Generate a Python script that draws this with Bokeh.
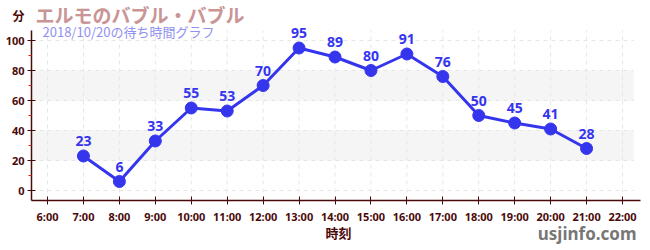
from bokeh.plotting import figure
from bokeh.models import Range1d, BoxAnnotation, Label, FixedTicker, ColumnDataSource, LabelSet
from bokeh.core.properties import value
from bokeh.embed import file_html
from bokeh.resources import INLINE

hours = [7, 8, 9, 10, 11, 12, 13, 14, 15, 16, 17, 18, 19, 20, 21]
waits = [23, 6, 33, 55, 53, 70, 95, 89, 80, 91, 76, 50, 45, 41, 28]
x_ticks = list(range(6, 23))
x_tick_labels = {h: f"{h}:00" for h in x_ticks}
y_ticks = [0, 20, 40, 60, 80, 100]
y_minor = [10, 30, 50, 70, 90]
bands = [(20, 40), (60, 80)]

JP = "Noto Sans CJK JP"
LAT = "Noto Sans"
AXIS_COL = "#4a0a0a"
BLUE = "#3535ee"
GRID = "#e6e6e6"

# plot-area limits (data units)
X0, X1, XG = 5.555, 22.5, 22.31
Y0, Y1 = -6.667, 106.667

p = figure(width=650, height=250, output_backend="svg", toolbar_location=None,
           x_range=Range1d(4.692, 22.779), y_range=Range1d(-40, 126.667),
           min_border=0)
p.outline_line_color = None
p.background_fill_color = "white"
p.xgrid.visible = False
p.ygrid.visible = False

for lo, hi in bands:
    p.add_layout(BoxAnnotation(left=X0, right=XG, bottom=lo, top=hi, fill_color="#f5f5f5",
                               fill_alpha=1.0, line_color=None, level="underlay"))

# dashed grid inside the plot area
p.segment(x0=x_ticks, y0=[Y0] * len(x_ticks), x1=x_ticks, y1=[Y1] * len(x_ticks),
          line_color=GRID, line_dash="4 4", line_width=1)
p.segment(x0=[X0] * len(y_ticks), y0=y_ticks, x1=[XG] * len(y_ticks), y1=y_ticks,
          line_color=GRID, line_dash="4 4", line_width=1)

p.xaxis.ticker = FixedTicker(ticks=x_ticks)
p.xaxis.major_label_overrides = x_tick_labels
p.yaxis.ticker = FixedTicker(ticks=y_ticks, minor_ticks=y_minor)
p.xaxis.fixed_location = Y0
p.yaxis.fixed_location = X0
p.xaxis.bounds = (X0, X1)
p.yaxis.bounds = (Y0, Y1)
for ax in (p.xaxis[0], p.yaxis[0]):
    ax.axis_line_color = AXIS_COL
    ax.axis_line_width = 1.5
    ax.major_tick_line_color = AXIS_COL
    ax.major_label_text_color = AXIS_COL
    ax.major_label_text_font = LAT
    ax.major_label_text_font_style = "bold"
    ax.major_label_text_font_size = "11px"
    ax.major_tick_in = 4
    ax.major_tick_out = 4
p.yaxis.minor_tick_line_color = "#dd2222"
p.yaxis.minor_tick_in = 0
p.yaxis.minor_tick_out = 3
p.xaxis.minor_tick_line_color = None
p.xaxis.major_label_standoff = 4
p.yaxis.major_label_standoff = 3

src = ColumnDataSource(dict(x=hours, y=waits, t=[str(v) for v in waits]))
p.line("x", "y", source=src, line_color=BLUE, line_width=3)
p.scatter("x", "y", source=src, size=12, fill_color=BLUE, line_color=BLUE)
p.add_layout(LabelSet(x="x", y="y", text="t", source=src, y_offset=10, text_align="center",
                      text_baseline="bottom", text_color=BLUE, text_font=value(LAT),
                      text_font_style="bold", text_font_size="14px"))

def lab(cx, cy, text, size, color, font=JP, style="bold", align="left"):
    p.add_layout(Label(x=cx, y=250 - cy, x_units="screen", y_units="screen", text=text,
                       text_font=font, text_font_size=size, text_color=color,
                       text_font_style=style, text_align=align, text_baseline="middle"))

lab(12, 15, "分", "12px", AXIS_COL)
lab(35, 14, "エルモのバブル・バブル", "19px", "#c99595")
lab(42, 31, "2018/10/20の待ち時間グラフ", "13px", "#9090f0", style="normal")
lab(338, 232, "時刻", "13px", AXIS_COL, align="center")
lab(636, 233, "usjinfo.com", "17px", "#777777", font=LAT, align="right")

open("out.html", "w").write(file_html(p, INLINE))
